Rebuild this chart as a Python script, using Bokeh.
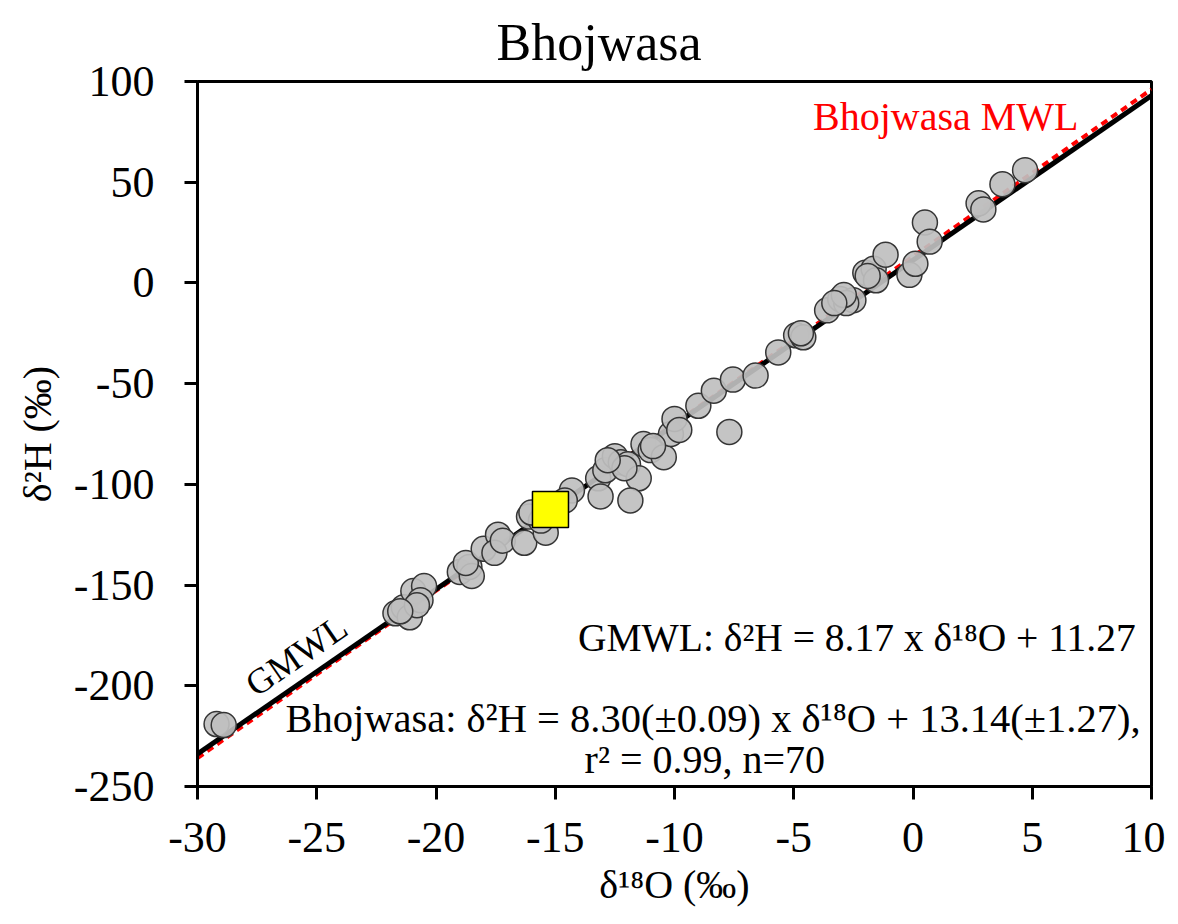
from bokeh.plotting import figure
from bokeh.models import Label, FixedTicker, Range1d, CustomJSTickFormatter
from bokeh.embed import file_html
from bokeh.resources import INLINE

# ---- data ----
d18O = [-29.2, -28.9, -21.7, -21.35, -21.1, -20.95, -20.5, -20.65, -20.8, -19.0,
        -18.6, -18.5, -18.75, -18.0, -17.4, -17.55, -17.2, -16.3, -16.1, -15.4,
        -15.6, -14.3, -14.6, -13.2, -13.1, -12.9, -12.5, -12.25, -11.95, -11.5,
        -11.85, -12.1, -11.3, -11.0, -10.45, -10.15, -10.0, -9.8, -9.0, -8.35,
        -7.7, -7.55, -6.6, -5.65, -4.9, -4.6, -3.6, -3.05, -2.5, -2.8,
        -2.9, -2.0, -1.65, -1.55, -1.15, -0.15, 0.1, 0.5, 0.7, 2.75,
        2.95, 3.75, 4.7, -12.8, -10.9, -4.7, -3.3, -1.9, -21.5, -16.0]
d2H = [-219, -219.5, -164, -161, -166, -153, -150.5, -157.5, -160, -143.5,
       -141, -145.5, -139, -132, -125, -134, -128, -129, -116, -124,
       -118, -103, -108, -97, -106, -93, -86, -89, -90, -97,
       -108, -92, -80, -83, -86.5, -75, -67.5, -73, -61, -53.5,
       -74, -48, -46, -34.5, -26, -27, -13.6, -8, -8.6, -10,
       -6, 5, 7, 1.3, 14, 4, 9.5, 30, 20.5, 39.5,
       36.5, 49, 56, -88, -81, -25, -10, 3.5, -163, -114]
mean_d18O = [-15.2]
mean_d2H = [-112.5]

line_x = [-30, 10]
gmwl_slope, gmwl_icpt = 8.17, 11.27
lmwl_slope, lmwl_icpt = 8.30, 13.14

x_ticks = [-30, -25, -20, -15, -10, -5, 0, 5, 10]
y_ticks = [-250, -200, -150, -100, -50, 0, 50, 100]

FONT = "Liberation Serif"

p = figure(width=1165, height=916, output_backend="svg", toolbar_location=None,
           x_range=Range1d(-30, 10), y_range=Range1d(-250, 100),
           min_border_left=197, min_border_right=14, min_border_top=81, min_border_bottom=130,
           title="Bhojwasa")
p.background_fill_color = "white"
p.border_fill_color = "white"
p.outline_line_color = "black"
p.outline_line_width = 3
p.xgrid.visible = False
p.ygrid.visible = False

p.title.text_font = FONT
p.title.text_font_size = "52px"
p.title.text_font_style = "normal"
p.title.text_color = "black"
p.title.align = "left"
p.title.offset = 299
p.title.standoff = 21

for ax, ticks in ((p.xaxis[0], x_ticks), (p.yaxis[0], y_ticks)):
    ax.ticker = FixedTicker(ticks=ticks)
    ax.formatter = CustomJSTickFormatter(code="return tick.toString();")
    ax.axis_line_width = 3
    ax.axis_line_color = "black"
    ax.major_tick_line_width = 3
    ax.major_tick_line_color = "black"
    ax.major_tick_in = 0
    ax.major_tick_out = 13
    ax.minor_tick_line_color = None
    ax.major_label_text_font = FONT
    ax.major_label_text_font_size = "44px"
    ax.major_label_text_color = "black"
    ax.axis_label_text_font = FONT
    ax.axis_label_text_font_size = "40px"
    ax.axis_label_text_font_style = "normal"
    ax.axis_label_text_color = "black"

p.xaxis.axis_label = "δ¹⁸O (‰)"
p.yaxis.axis_label = "δ²H (‰)"
p.xaxis.major_label_standoff = 23
p.yaxis.major_label_standoff = 30
p.xaxis.axis_label_standoff = 7
p.yaxis.axis_label_standoff = 11

# lines
lmwl_y = [lmwl_slope * v + lmwl_icpt for v in line_x]
gmwl_y = [gmwl_slope * v + gmwl_icpt for v in line_x]
p.line(line_x, lmwl_y, line_color="red", line_width=4, line_dash="7 5")
p.line(line_x, gmwl_y, line_color="black", line_width=5)

# samples
p.scatter(d18O, d2H, marker="circle", size=25, fill_color="#BFBFBF", fill_alpha=0.92,
          line_color="#353535", line_width=1.5)
p.scatter(mean_d18O, mean_d2H, marker="square", size=36, fill_color="#FFFF00",
          line_color="black", line_width=1.5)

# texts
p.add_layout(Label(x=6.94, y=82.5, text="Bhojwasa MWL", text_font=FONT, text_font_size="40px",
                   text_align="right", text_baseline="alphabetic", text_color="red"))
p.add_layout(Label(x=-25.85, y=-185.0, text="GMWL", text_font=FONT, text_font_size="36px",
                   text_align="center", text_baseline="middle", angle=0.6015, text_color="black"))
p.add_layout(Label(x=9.75, y=-176.2, text="GMWL: δ²H  = 8.17 x δ¹⁸O + 11.27", text_font=FONT,
                   text_font_size="39.5px", text_align="right", text_baseline="alphabetic",
                   text_color="black"))
p.add_layout(Label(x=9.54, y=-216.0, text="Bhojwasa: δ²H = 8.30(±0.09) x δ¹⁸O + 13.14(±1.27),",
                   text_font=FONT, text_font_size="40.5px", text_align="right",
                   text_baseline="alphabetic", text_color="black"))
p.add_layout(Label(x=-13.77, y=-236.5, text="r² = 0.99, n=70", text_font=FONT,
                   text_font_size="40px", text_align="left", text_baseline="alphabetic",
                   text_color="black"))

open("out.html", "w").write(file_html(p, INLINE))
